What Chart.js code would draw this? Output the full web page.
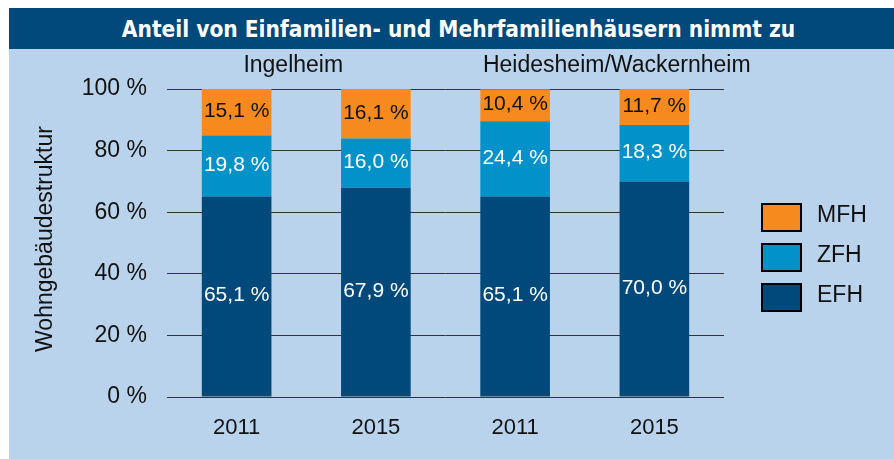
<!DOCTYPE html>
<html>
<head>
<meta charset="utf-8">
<script src="https://cdn.jsdelivr.net/npm/chart.js@4.4.1/dist/chart.umd.min.js"></script>
<style>
  html, body { margin: 0; padding: 0; background: #ffffff; }
  #panel { position: absolute; left: 9px; top: 8px; width: 885px; height: 451px; background: #b8d3eb; }
  #title { height: 41px; background: #00497a; color: #ffffff; display: flex; align-items: center; justify-content: center;
           padding-left: 14px;
           font-family: "DejaVu Sans Condensed", "Liberation Sans", sans-serif; font-weight: bold; font-size: 22.5px; }
  #wrap { position: relative; width: 885px; height: 410px; }
</style>
</head>
<body>
<div id="panel">
  <div id="title">Anteil von Einfamilien- und Mehrfamilienhäusern nimmt zu</div>
  <div id="wrap"><canvas id="chart"></canvas></div>
</div>
<script>
// Wohngebäudestruktur in Prozent
var years = ['2011', '2015', '2011', '2015'];
var places = ['Ingelheim', 'Heidesheim/Wackernheim'];
var efh = [65.1, 67.9, 65.1, 70.0];
var zfh = [19.8, 16.0, 24.4, 18.3];
var mfh = [15.1, 16.1, 10.4, 11.7];
var yTicks = [0, 20, 40, 60, 80, 100];

var FONT = '"Liberation Sans", Arial, Helvetica, sans-serif';

// Prozentwerte in die Balken schreiben
var valueLabels = {
    id: 'valueLabels',
    afterDatasetsDraw: function(chart) {
        var ctx = chart.ctx;
        ctx.save();
        ctx.font = '21px ' + FONT;
        ctx.textAlign = 'center';
        ctx.textBaseline = 'middle';
        chart.data.datasets.forEach(function(ds, i) {
            var meta = chart.getDatasetMeta(i);
            meta.data.forEach(function(bar, j) {
                var v = ds.data[j];
                ctx.fillStyle = ds.labelColor;
                ctx.fillText(v.toFixed(1).replace('.', ',') + ' %', bar.x, (bar.y + bar.base) / 2 - 1);
            });
        });
        ctx.restore();
    }
};

// Ortsnamen, Achsentitel und Legende
var extras = {
    id: 'extras',
    afterDraw: function(chart) {
        var ctx = chart.ctx;
        var x = chart.scales.x;
        var area = chart.chartArea;
        ctx.save();
        ctx.fillStyle = '#111';
        ctx.font = '23px ' + FONT;
        ctx.textAlign = 'center';
        ctx.textBaseline = 'alphabetic';
        ctx.fillText(places[0], (x.getPixelForValue(0) + x.getPixelForValue(1)) / 2 - 13, 23);
        ctx.fillText(places[1], (x.getPixelForValue(2) + x.getPixelForValue(3)) / 2 + 32, 23);

        ctx.save();
        ctx.translate(37, (area.top + area.bottom) / 2 - 4);
        ctx.rotate(-Math.PI / 2);
        ctx.textBaseline = 'middle';
        ctx.fillText('Wohngebäudestruktur', 0, 0);
        ctx.restore();

        // Legende, oberster Stapel zuerst
        var items = chart.data.datasets.slice().reverse();
        items.forEach(function(ds, k) {
            var top = 155 + k * 40;
            ctx.fillStyle = ds.backgroundColor;
            ctx.fillRect(753, top, 39, 27);
            ctx.lineWidth = 2;
            ctx.strokeStyle = '#000';
            ctx.strokeRect(753, top, 39, 27);
            ctx.fillStyle = '#111';
            ctx.textAlign = 'left';
            ctx.textBaseline = 'middle';
            ctx.fillText(ds.label, 808, top + 12);
        });
        ctx.restore();
    }
};

new Chart(document.getElementById('chart'), {
    type: 'bar',
    data: {
        labels: years,
        datasets: [
            { label: 'EFH', data: efh, backgroundColor: '#00497a', labelColor: '#ffffff' },
            { label: 'ZFH', data: zfh, backgroundColor: '#0391ca', labelColor: '#ffffff' },
            { label: 'MFH', data: mfh, backgroundColor: '#f68a1f', labelColor: '#111111' }
        ]
    },
    options: {
        responsive: true,
        maintainAspectRatio: false,
        animation: false,
        layout: { padding: { left: 0, top: 40, right: 170, bottom: 0 } },
        datasets: { bar: { barPercentage: 0.5, categoryPercentage: 1.0 } },
        plugins: {
            legend: { display: false },
            tooltip: { enabled: false }
        },
        scales: {
            x: {
                stacked: true,
                grid: { display: false },
                border: { display: false },
                ticks: { color: '#111', font: { family: FONT, size: 22 }, padding: 10 },
                afterFit: function(s) { s.height = 62; }
            },
            y: {
                stacked: true,
                min: 0,
                max: 100,
                afterBuildTicks: function(s) { s.ticks = yTicks.map(function(v) { return { value: v }; }); },
                grid: { color: '#333', lineWidth: 1, drawTicks: false },
                border: { display: false },
                ticks: {
                    color: '#111',
                    font: { family: FONT, size: 23 },
                    padding: 20,
                    callback: function(v) { return v + ' %'; }
                },
                afterFit: function(s) { s.width = 158; }
            }
        }
    },
    plugins: [valueLabels, extras]
});
</script>
</body>
</html>
